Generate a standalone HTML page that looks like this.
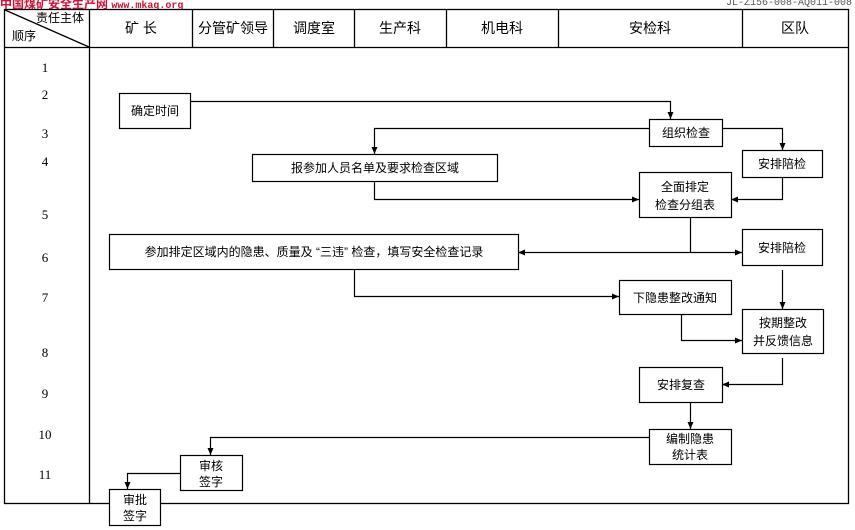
<!DOCTYPE html>
<html><head><meta charset="utf-8"><style>
body{margin:0;width:855px;height:530px;background:#fff;overflow:hidden;position:relative;font-family:"Liberation Sans","Noto Sans CJK SC",sans-serif;}
svg{position:absolute;left:0;top:0}
</style></head><body>
<svg width="855" height="530" viewBox="0 0 855 530" font-family="Liberation Sans, Noto Sans CJK SC, sans-serif">
<defs><marker id="a" markerWidth="8" markerHeight="8" refX="7" refY="4" orient="auto" markerUnits="userSpaceOnUse"><path d="M0,1 L7,4 L0,7 z" fill="#000"/></marker></defs>
<text x="0" y="8" font-size="12" font-weight="bold" fill="#d0103a">中国煤矿安全生产网 <tspan font-size="10" font-family="Liberation Mono">www.mkaq.org</tspan></text>
<text x="852" y="5" font-size="10" fill="#555" text-anchor="end" font-family="Liberation Mono">JL-Z156-008-AQ011-008</text>
<g stroke="#000" stroke-width="1.3" fill="none">
<rect x="4.5" y="9.5" width="844" height="494"/>
<line x1="4" y1="47.5" x2="849" y2="47.5"/>
<line x1="89.5" y1="9" x2="89.5" y2="504"/>
<line x1="192.5" y1="9" x2="192.5" y2="47"/>
<line x1="273.5" y1="9" x2="273.5" y2="47"/>
<line x1="354.5" y1="9" x2="354.5" y2="47"/>
<line x1="446.5" y1="9" x2="446.5" y2="47"/>
<line x1="558.5" y1="9" x2="558.5" y2="47"/>
<line x1="742.5" y1="9" x2="742.5" y2="47"/>
<line x1="5" y1="10" x2="89" y2="47"/>
</g>
<g font-size="14" text-anchor="middle" fill="#000">
<text x="60" y="22" font-size="12">责任主体</text>
<text x="24" y="40" font-size="12">顺序</text>
<text x="141" y="33">矿 长</text>
<text x="233" y="33">分管矿领导</text>
<text x="314" y="33">调度室</text>
<text x="400" y="33">生产科</text>
<text x="502" y="33">机电科</text>
<text x="650" y="33">安检科</text>
<text x="795" y="33">区队</text>
</g>
<g font-size="13" text-anchor="middle" fill="#000" font-family="Liberation Serif, serif">
<text x="45" y="72">1</text><text x="45" y="99">2</text><text x="45" y="138">3</text><text x="45" y="166">4</text>
<text x="45" y="219">5</text><text x="45" y="262">6</text><text x="45" y="302">7</text><text x="45" y="357">8</text>
<text x="45" y="398">9</text><text x="45" y="439">10</text><text x="45" y="479">11</text>
</g>
<g stroke="#000" stroke-width="1.2" fill="#fff">
<rect x="119.5" y="93.5" width="71" height="35"/>
<rect x="649.5" y="119.5" width="73" height="27"/>
<rect x="252.5" y="154.5" width="245" height="27"/>
<rect x="742.5" y="150.5" width="80" height="27"/>
<rect x="639.5" y="172.5" width="92" height="45"/>
<rect x="109.5" y="234.5" width="409" height="35"/>
<rect x="742.5" y="229.5" width="80" height="36"/>
<rect x="619.5" y="280.5" width="112" height="34"/>
<rect x="742.5" y="309.5" width="81" height="44"/>
<rect x="639.5" y="367.5" width="83" height="35"/>
<rect x="649.5" y="429.5" width="82" height="35"/>
<rect x="180.5" y="455.5" width="62" height="35"/>
<rect x="109.5" y="489.5" width="51" height="36"/>
</g>
<g stroke="#000" stroke-width="1.2" fill="none" marker-end="url(#a)">
<polyline points="190,101.5 670.5,101.5 670.5,119"/>
<polyline points="649,128.5 374.5,128.5 374.5,154"/>
<polyline points="374.5,181 374.5,199.5 639,199.5"/>
<polyline points="722,128.5 782.5,128.5 782.5,150"/>
<polyline points="782.5,177 782.5,199.5 731,199.5"/>
<polyline points="690.5,252.5 518,252.5"/>
<polyline points="690.5,252.5 742,252.5"/>
<polyline points="354.5,269 354.5,296.5 619,296.5"/>
<polyline points="782.5,270 782.5,309"/>
<polyline points="681.5,314 681.5,340.5 742,340.5"/>
<polyline points="782.5,358 782.5,384.5 722,384.5"/>
<polyline points="690.5,402 690.5,429"/>
<polyline points="649,437.5 210.5,437.5 210.5,455"/>
<polyline points="180,473.5 127.5,473.5 127.5,489"/>
</g>
<line x1="690.5" y1="217" x2="690.5" y2="253" stroke="#000" stroke-width="1.2"/>
<g font-size="12" text-anchor="middle" fill="#000">
<text x="155" y="115">确定时间</text>
<text x="686" y="137">组织检查</text>
<text x="375" y="172">报参加人员名单及要求检查区域</text>
<text x="782" y="168">安排陪检</text>
<text x="685" y="191">全面排定</text>
<text x="685" y="209">检查分组表</text>
<text x="314" y="256">参加排定区域内的隐患、质量及 “三违” 检查，填写安全检查记录</text>
<text x="782" y="252">安排陪检</text>
<text x="675" y="302">下隐患整改通知</text>
<text x="783" y="327">按期整改</text>
<text x="783" y="345">并反馈信息</text>
<text x="681" y="389">安排复查</text>
<text x="690" y="443">编制隐患</text>
<text x="690" y="459">统计表</text>
<text x="211" y="470">审核</text>
<text x="211" y="486">签字</text>
<text x="135" y="504">审批</text>
<text x="135" y="520">签字</text>
</g>
</svg>
</body></html>
